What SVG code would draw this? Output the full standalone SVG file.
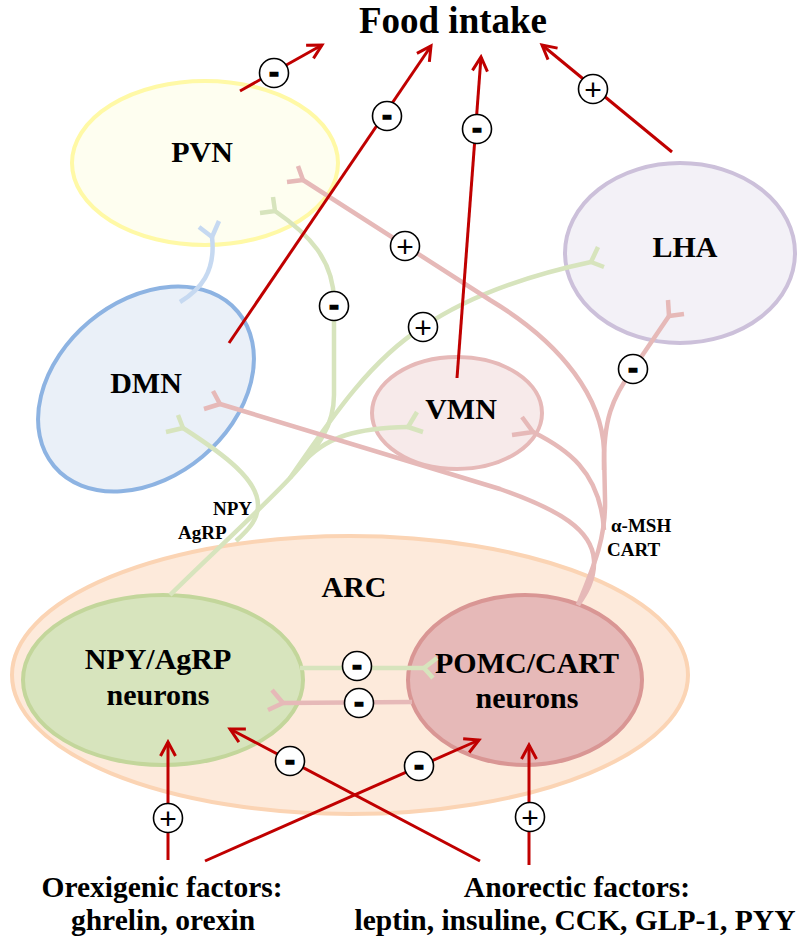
<svg xmlns="http://www.w3.org/2000/svg" width="800" height="940" viewBox="0 0 800 940">
<defs>
<style>
text{font-family:"Liberation Serif","Times New Roman",serif;font-weight:bold;fill:#000}
.lbl{font-size:30px;text-anchor:middle}
.sm{font-size:19px}
.bot{font-size:29.5px;text-anchor:middle}
.red{fill:none;stroke:#C00000;stroke-width:3;marker-end:url(#arr)}
.pk{fill:none;stroke:#E6B9B8;stroke-width:4.5;stroke-linejoin:round}
.gr{fill:none;stroke:#D7E4BD;stroke-width:4.5;stroke-linejoin:round}
.bl{fill:none;stroke:#C6D9F1;stroke-width:4.5;stroke-linejoin:round}
.bd{fill:#fff;stroke:#000;stroke-width:1.6}
.mi{font-family:"Liberation Sans",Arial,sans-serif;font-size:30px;font-weight:bold;text-anchor:middle;stroke:#000;stroke-width:1.3}
.pl{font-family:"Liberation Sans",Arial,sans-serif;font-size:30px;font-weight:normal;text-anchor:middle}
</style>
<marker id="arr" markerUnits="userSpaceOnUse" markerWidth="20" markerHeight="20" viewBox="0 0 20 20" refX="17" refY="10" orient="auto">
<path d="M3,2.5 L17,10 L3,17.5" fill="none" stroke="#C00000" stroke-width="3"/>
</marker>
</defs>
<rect width="800" height="940" fill="#fff"/>

<g id="ARC">
<ellipse cx="350" cy="675" rx="338" ry="139" fill="#FDEADB" stroke="#FBD4B4" stroke-width="4"/>
<text class="lbl" x="354" y="597">ARC</text>
</g>
<g id="NPY_AgRP">
<ellipse cx="163" cy="680" rx="140" ry="85" fill="#D7E4BD" stroke="#C3D69B" stroke-width="4"/>
<text class="lbl" x="158" y="669">NPY/AgRP</text>
<text class="lbl" x="158" y="705">neurons</text>
</g>
<g id="POMC_CART">
<ellipse cx="525" cy="680" rx="117" ry="85" fill="#E6B9B8" stroke="#D99694" stroke-width="4"/>
<text class="lbl" x="527" y="673">POMC/CART</text>
<text class="lbl" x="527" y="708">neurons</text>
</g>
<g id="PVN">
<ellipse cx="205" cy="163" rx="133" ry="82" fill="#FEFEF0" stroke="#FFF9A6" stroke-width="4"/>
<text class="lbl" x="202" y="162">PVN</text>
</g>
<g id="DMN">
<ellipse cx="0" cy="0" rx="120" ry="88" transform="translate(146,389) rotate(-40)" fill="#EAF0F8" stroke="#8DB3E2" stroke-width="4"/>
<text class="lbl" x="146" y="393">DMN</text>
</g>
<g id="LHA">
<ellipse cx="680" cy="253" rx="115" ry="90" fill="#F3F1F7" stroke="#CCC0DA" stroke-width="4"/>
<text class="lbl" x="685" y="257">LHA</text>
</g>
<g id="VMN">
<ellipse cx="457" cy="413" rx="85" ry="56" fill="#F7EAEA" stroke="#E6B9B8" stroke-width="4"/>
<text class="lbl" x="461" y="419">VMN</text>
</g>
<g id="FoodIntake">
<text x="453" y="33" style="font-size:37px;text-anchor:middle">Food intake</text>
</g>
<g id="Orexigenic">
<text class="bot" x="162" y="897">Orexigenic factors:</text>
<text class="bot" x="163" y="930">ghrelin, orexin</text>
</g>
<g id="Anorectic">
<text class="bot" x="577" y="897">Anorectic factors:</text>
<text class="bot" x="575" y="930">leptin, insuline, CCK, GLP-1, PYY</text>
</g>

<g id="connectors">
<!-- blue DMN -> PVN -->
<path class="bl" d="M180,302 C200,290 216,272 212,237"/>
<path class="bl" d="M219,221 L212,237 L199,227"/>
<!-- green NPY projections -->
<path class="gr" d="M170,595 C200,565 265,505 290,478 C320,445 334,425 334,395 L334,300 C333,260 310,235 275,211"/>
<path class="gr" d="M273,197 L275,211 L260,213"/>
<path class="gr" d="M290,478 C330,420 370,360 423,327 C470,295 530,275 591,262"/>
<path class="gr" d="M598,247 L591,262 L604,267"/>
<path class="gr" d="M300,466 C325,435 360,428 408,427"/>
<path class="gr" d="M417,412 L408,427 L423,432"/>
<path class="gr" d="M183,428 C225,455 258,480 258,505 C258,520 248,530 236,541"/>
<path class="gr" d="M178,415 L183,428 L166,432"/>
<path class="gr" d="M300,668 L424,668"/>
<path class="gr" d="M437,658 L424,668 L433,678"/>
<!-- pink POMC projections -->
<path class="pk" d="M578,605 C592,570 606,540 605,500 L604,450 C602,400 565,345 490,300 L303,180"/>
<path class="pk" d="M298,166 L303,180 L287,182"/>
<path class="pk" d="M604,470 C603,420 612,398 633,369 L669,316"/>
<path class="pk" d="M668,300 L669,316 L684,314"/>
<path class="pk" d="M533,432 C565,448 600,470 604,530"/>
<path class="pk" d="M522,417 L533,432 L512,435"/>
<path class="pk" d="M220,404 L500,489 C560,510 592,530 594,560 C595,580 585,595 578,605"/>
<path class="pk" d="M213,391 L220,404 L204,409"/>
<path class="pk" d="M412,702 L283,703"/>
<path class="pk" d="M272,690 L283,703 L268,710"/>
<!-- red arrows -->
<line class="red" x1="240" y1="91" x2="322" y2="45"/>
<line class="red" x1="229" y1="343" x2="431" y2="46"/>
<line class="red" x1="457" y1="378" x2="481" y2="57"/>
<line class="red" x1="672" y1="152" x2="542" y2="45"/>
<line class="red" x1="168" y1="860" x2="168" y2="742"/>
<line class="red" x1="205" y1="861" x2="479" y2="740"/>
<line class="red" x1="480" y1="861" x2="230" y2="729"/>
<line class="red" x1="529" y1="865" x2="529" y2="745"/>
<!-- labels -->
<text class="sm" x="213" y="515">NPY</text>
<text class="sm" x="178" y="539">AgRP</text>
<text class="sm" x="611" y="532">α-MSH</text>
<text class="sm" x="607" y="556">CART</text>
<!-- badges -->
<g><circle class="bd" cx="274" cy="73" r="14.5"/><text class="mi" x="274" y="81.5">-</text></g>
<g><circle class="bd" cx="387" cy="116" r="14.5"/><text class="mi" x="387" y="124.5">-</text></g>
<g><circle class="bd" cx="477" cy="129" r="14.5"/><text class="mi" x="477" y="137.5">-</text></g>
<g><circle class="bd" cx="593" cy="89" r="14.5"/><text class="pl" x="593" y="99.5">+</text></g>
<g><circle class="bd" cx="405" cy="246" r="14.5"/><text class="pl" x="405" y="256.5">+</text></g>
<g><circle class="bd" cx="334" cy="306" r="14.5"/><text class="mi" x="334" y="314.5">-</text></g>
<g><circle class="bd" cx="423" cy="327" r="14.5"/><text class="pl" x="423" y="337.5">+</text></g>
<g><circle class="bd" cx="633" cy="369" r="14.5"/><text class="mi" x="633" y="377.5">-</text></g>
<g><circle class="bd" cx="357" cy="666" r="14.5"/><text class="mi" x="357" y="674.5">-</text></g>
<g><circle class="bd" cx="359" cy="703" r="14.5"/><text class="mi" x="359" y="711.5">-</text></g>
<g><circle class="bd" cx="290" cy="761" r="14.5"/><text class="mi" x="290" y="769.5">-</text></g>
<g><circle class="bd" cx="419" cy="766" r="14.5"/><text class="mi" x="419" y="774.5">-</text></g>
<g><circle class="bd" cx="168" cy="818" r="14.5"/><text class="pl" x="168" y="828.5">+</text></g>
<g><circle class="bd" cx="530" cy="817" r="14.5"/><text class="pl" x="530" y="827.5">+</text></g>
</g>
</svg>
